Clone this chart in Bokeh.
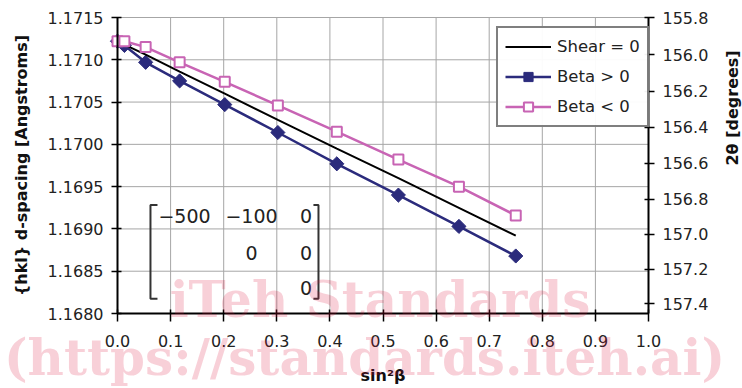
import math
from bokeh.plotting import figure
from bokeh.models import (FixedTicker, PrintfTickFormatter, LinearAxis, CustomJSTickFormatter,
                          Legend, LegendItem, Label, ColumnDataSource, Range1d)
from bokeh.core.properties import value
from bokeh.embed import file_html
from bokeh.resources import INLINE

# ---------------- data ----------------
sin2beta = [0.0, 0.013, 0.053, 0.117, 0.202, 0.302, 0.413, 0.529, 0.643, 0.750]
d_shear0 = [1.17122, 1.17118, 1.17106, 1.17086, 1.17060, 1.17029, 1.16995, 1.16960, 1.16925, 1.16892]
d_beta_pos = [1.17122, 1.17117, 1.17097, 1.17075, 1.17047, 1.17014, 1.16977, 1.16940, 1.16903, 1.16868]
d_beta_neg = [1.17122, 1.17122, 1.17115, 1.17097, 1.17074, 1.17046, 1.17015, 1.16982, 1.16950, 1.16916]

x_ticks = [0.0, 0.1, 0.2, 0.3, 0.4, 0.5, 0.6, 0.7, 0.8, 0.9, 1.0]
y_ticks = [1.1680, 1.1685, 1.1690, 1.1695, 1.1700, 1.1705, 1.1710, 1.1715]
two_theta_ticks = [155.8, 156.0, 156.2, 156.4, 156.6, 156.8, 157.0, 157.2, 157.4]
WAVELENGTH = 2.29094  # Angstroms, links d-spacing to 2theta (Bragg)

series_names = ["Shear = 0", "Beta > 0", "Beta < 0"]
matrix_rows = [["\u2212500", "\u2212100", "0"], ["", "0", "0"], ["", "", "0"]]
watermark = ["iTeh Standards", "(https://standards.iteh.ai)"]

NAVY = "#2B2B7C"
PINK = "#C864B4"
FONT = "DejaVu Sans"

# ---------------- layout (pixels) ----------------
W, H = 742, 388
PL, PR, PT, PB = 117, 648, 17, 313          # plotting-area edges on the canvas
X0, X1 = x_ticks[0], x_ticks[-1]
Y0, Y1 = y_ticks[0], y_ticks[-1]
xs_per_px = (X1 - X0) / (PR - PL)
ys_per_px = (Y1 - Y0) / (PB - PT)

p = figure(width=W, height=H,
           x_range=Range1d(X0 - PL * xs_per_px, X1 + (W - PR) * xs_per_px),
           y_range=Range1d(Y0 - (H - PB) * ys_per_px, Y1 + PT * ys_per_px),
           x_axis_location=None, y_axis_location=None,
           output_backend="svg", toolbar_location=None, min_border=0)
p.outline_line_color = None
p.background_fill_color = "white"
p.border_fill_color = "white"
p.grid.visible = False

# grid lines limited to the plotting area
p.segment(x0=x_ticks, y0=[Y0] * len(x_ticks), x1=x_ticks, y1=[Y1] * len(x_ticks),
          line_color="#A6A6A6", line_width=1, level="underlay")
p.segment(x0=[X0] * len(y_ticks), y0=y_ticks, x1=[X1] * len(y_ticks), y1=y_ticks,
          line_color="#A6A6A6", line_width=1, level="underlay")

# axes pinned to the plotting-area edges
left = LinearAxis(fixed_location=X0, bounds=(Y0, Y1), ticker=FixedTicker(ticks=y_ticks),
                  formatter=PrintfTickFormatter(format="%.4f"),
                  axis_label="{hkl} d-spacing [Angstroms]")
bottom = LinearAxis(fixed_location=Y0, bounds=(X0, X1), ticker=FixedTicker(ticks=x_ticks),
                    formatter=PrintfTickFormatter(format="%.1f"), axis_label="sin\u00b2\u03b2")
d_tick_pos = [WAVELENGTH / (2 * math.sin(math.radians(t / 2))) for t in two_theta_ticks]
right = LinearAxis(fixed_location=X1, bounds=(Y0, Y1), ticker=FixedTicker(ticks=d_tick_pos),
                   formatter=CustomJSTickFormatter(args=dict(lam=WAVELENGTH),
                       code="return (2*Math.asin(lam/(2*tick))*180/Math.PI).toFixed(1);"),
                   axis_label="2\u03b8 [degrees]")
p.add_layout(left, "left")
p.add_layout(bottom, "below")
p.add_layout(right, "right")

for ax in (left, bottom, right):
    ax.axis_line_color = "black"
    ax.axis_line_width = 2
    ax.major_tick_line_color = "black"
    ax.major_tick_line_width = 1.5
    ax.major_tick_in = 4
    ax.major_tick_out = 6
    ax.minor_tick_line_color = None
    ax.major_label_text_font = FONT
    ax.major_label_text_font_size = "16px"
    ax.major_label_text_color = "#222222"
    ax.axis_label_text_font = FONT
    ax.axis_label_text_font_size = "16px"
    ax.axis_label_text_font_style = "bold"
    ax.axis_label_text_color = "#111111"
    ax.major_label_standoff = 8
bottom.major_tick_out = 8
bottom.major_label_standoff = 13
bottom.axis_label_standoff = 16
left.axis_label_standoff = 14
right.axis_label_standoff = 21
right.axis_label_orientation = math.pi / 2

# ---------------- series ----------------
src = ColumnDataSource(dict(x=sin2beta, s0=d_shear0, bp=d_beta_pos, bn=d_beta_neg))
l_pos = p.line("x", "bp", source=src, line_color=NAVY, line_width=2.5)
m_pos = p.scatter("x", "bp", source=src, marker="square", angle=45, angle_units="deg",
                  size=10, fill_color=NAVY, line_color=NAVY)
l_0 = p.line("x", "s0", source=src, line_color="black", line_width=2)
l_neg = p.line("x", "bn", source=src, line_color=PINK, line_width=2.5)
m_neg = p.scatter("x", "bn", source=src, marker="square", size=10,
                  fill_color="white", line_color=PINK, line_width=2)

legend = Legend(items=[LegendItem(label=series_names[0], renderers=[l_0]),
                       LegendItem(label=series_names[1], renderers=[l_pos, m_pos]),
                       LegendItem(label=series_names[2], renderers=[l_neg, m_neg])],
                location=(496, 261))
legend.glyph_width = 46
legend.glyph_height = 23
legend.label_height = 23
legend.label_standoff = 6
legend.spacing = 7
legend.padding = 7
legend.margin = 0
legend.border_line_color = "black"
legend.border_line_width = 2
legend.label_text_font = FONT
legend.label_text_font_size = "16.5px"
legend.label_text_color = "#222222"
p.add_layout(legend)

# ---------------- stress matrix annotation ----------------
col_x = [0.1262, 0.2524, 0.355]
row_y = [1.16915, 1.16871, 1.16830]
mx, my, mt = [], [], []
for r, row in enumerate(matrix_rows):
    for c, txt in enumerate(row):
        if txt:
            mx.append(col_x[c]); my.append(row_y[r]); mt.append(txt)
p.text(x=mx, y=my, text=mt, text_font=value(FONT), text_font_size=value("19px"),
       text_align="center", text_baseline="middle", text_color="#222222")
top, bot = 1.169284, 1.168173
p.multi_line(xs=[[0.0753, 0.0621, 0.0621, 0.0753], [0.369, 0.3785, 0.3785, 0.369]],
             ys=[[top, top, bot, bot], [top, top, bot, bot]],
             line_color="#333333", line_width=2)

# ---------------- watermark ----------------
for txt, xx, yy in ((watermark[0], 0.4944, 1.168169),
                    (watermark[1], 0.4652, 1.167483)):
    p.add_layout(Label(x=xx, y=yy, text=txt,
                       text_font="DejaVu Serif", text_font_style="bold",
                       text_font_size="50px", text_color="#DC143C", text_alpha=0.2,
                       text_align="center", text_baseline="middle"))

open("out.html", "w").write(file_html(p, INLINE))
